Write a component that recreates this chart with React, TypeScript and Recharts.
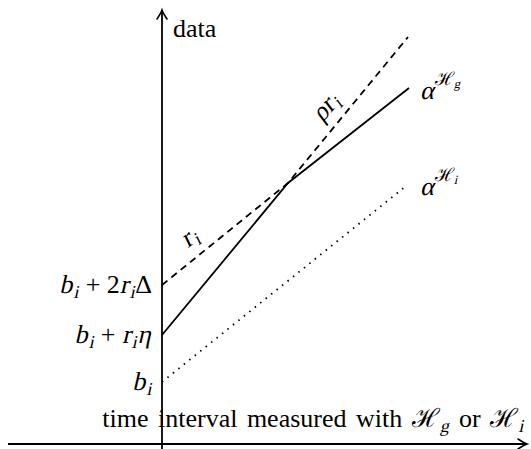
import React from 'react';
import { LineChart, Line, XAxis, YAxis, ReferenceLine, ReferenceDot } from 'recharts';

// units: 1 = 10px, origin where the two axes cross
const dashedX = [0, 12.6, 24.6];
const dashedY = [15.9, 26.1, 40.7];
const solidX = [0, 12.6, 24.7];
const solidY = [10.9, 26.1, 35.6];
const dottedX = [0, 24.4];
const dottedY = [6.2, 25.8];

const yTickValues = [15.9, 10.9, 6.2];
const yTickLabels = ['$b_i + 2r_iΔ$', '$b_i + r_iη$', '$b_i$'];

const seriesLabels = ['$α^{ℋ_g}$', '$α^{ℋ_i}$'];
const slopeLabels = ['$r_i$', '$ρr_i$'];
const xAxisTitle = 'time interval measured with $ℋ_g$ or $ℋ_i$';
const yAxisTitle = 'data';

const toPoints = (xs: number[], ys: number[]) => xs.map((x, i) => ({ x, y: ys[i] }));
const dashedData = toPoints(dashedX, dashedY);
const solidData = toPoints(solidX, solidY);
const dottedData = toPoints(dottedX, dottedY);

const FONT = 26;
const SERIF = '"Liberation Serif", "Times New Roman", serif';
const WORD_GAP = 3; // text mode spaces are a bit wider in the original

type Tok = { t: string; off: number; size: number; it: boolean; math: boolean };

// tiny tex-ish parser: $..$ math mode, _ sub, ^ sup, {..} groups
function parse(src: string, off: number, size: number, math: boolean, out: Tok[]) {
  let i = 0;
  const group = (): string => {
    if (src[i] === '{') {
      let depth = 1;
      let j = i + 1;
      while (j < src.length && depth > 0) {
        if (src[j] === '{') depth++;
        if (src[j] === '}') depth--;
        j++;
      }
      const g = src.slice(i + 1, j - 1);
      i = j;
      return g;
    }
    const g = src[i];
    i++;
    return g;
  };
  while (i < src.length) {
    const c = src[i];
    if (c === '$') {
      math = !math;
      i++;
    } else if (math && c === '_') {
      i++;
      parse(group(), off + size * 0.18, size * 0.7, true, out);
    } else if (math && c === '^') {
      i++;
      parse(group(), off - size * 0.55, size * 0.7, true, out);
    } else {
      const it = math && /[a-zA-Zαρη]/.test(c);
      const last = out[out.length - 1];
      if (last && last.off === off && last.size === size && last.it === it && last.math === math) last.t += c;
      else out.push({ t: c, off, size, it, math });
      i++;
    }
  }
}

let ctx: CanvasRenderingContext2D | null = null;
const measure = (t: string, size: number) => {
  if (!ctx) ctx = document.createElement('canvas').getContext('2d');
  if (!ctx) return t.length * size * 0.5;
  ctx.font = `${size}px ${SERIF}`;
  return ctx.measureText(t).width;
};

const MathText = ({ x, y, src, anchor = 'start', rotate = 0 }: any) => {
  const toks: Tok[] = [];
  parse(src, 0, FONT, false, toks);
  const widths = toks.map((k) => {
    let w = measure(k.t, k.size);
    if (!k.math) w += (k.t.match(/ /g) || []).length * WORD_GAP;
    if (k.it) w += k.size * 0.04;
    return w;
  });
  const total = widths.reduce((a, b) => a + b, 0);
  let cx = anchor === 'end' ? -total : anchor === 'middle' ? -total / 2 : 0;
  const parts = toks.map((k, idx) => {
    const px = cx;
    cx += widths[idx];
    return (
      <text
        key={idx}
        x={0}
        y={0}
        fontFamily={SERIF}
        fontSize={k.size}
        fill="#000"
        wordSpacing={k.math ? 0 : WORD_GAP}
        style={{ whiteSpace: 'pre' }}
        transform={`translate(${px} ${k.off})${k.it ? ' skewX(-13)' : ''}`}
      >
        {k.t}
      </text>
    );
  });
  return <g transform={`translate(${x} ${y})${rotate ? ` rotate(${rotate})` : ''}`}>{parts}</g>;
};

const Arrow = (p: any) => {
  const { x1, y1, x2, y2 } = p;
  const len = Math.hypot(x2 - x1, y2 - y1) || 1;
  const ux = (x2 - x1) / len;
  const uy = (y2 - y1) / len;
  const nx = -uy;
  const ny = ux;
  const L = [x2 - 9 * ux + 5 * nx, y2 - 9 * uy + 5 * ny];
  const R = [x2 - 9 * ux - 5 * nx, y2 - 9 * uy - 5 * ny];
  const cL = [x2 - 3 * ux + 1 * nx, y2 - 3 * uy + 1 * ny];
  const cR = [x2 - 3 * ux - 1 * nx, y2 - 3 * uy - 1 * ny];
  return (
    <g>
      <line x1={x1} y1={y1} x2={x2} y2={y2} stroke="#000" strokeWidth={1.8} />
      <path
        d={`M${L[0]},${L[1]} Q${cL[0]},${cL[1]} ${x2},${y2} Q${cR[0]},${cR[1]} ${R[0]},${R[1]}`}
        fill="none"
        stroke="#000"
        strokeWidth={1.6}
        strokeLinecap="round"
      />
    </g>
  );
};

const labelAt = (src: string, dx: number, dy: number, anchor = 'start', rotate = 0) => (p: any) => (
  <MathText x={p.cx + dx} y={p.cy + dy} src={src} anchor={anchor} rotate={rotate} />
);

const lerp = (a: number, b: number, t: number) => a + (b - a) * t;

export default function App() {
  return (
    <div style={{ position: 'absolute', left: 0, top: 0, background: '#fff' }}>
      <LineChart width={531} height={449} margin={{ top: 0, right: 0, bottom: 0, left: 0 }}>
        <XAxis type="number" dataKey="x" domain={[-16.2, 36.9]} allowDataOverflow hide />
        <YAxis type="number" dataKey="y" domain={[-0.5, 44.4]} allowDataOverflow hide />

        <ReferenceLine segment={[{ x: -15.4, y: 0 }, { x: 36.5, y: 0 }]} shape={Arrow} />
        <ReferenceLine segment={[{ x: 0, y: -0.5 }, { x: 0, y: 43.4 }]} shape={Arrow} />

        <Line data={dashedData} dataKey="y" type="linear" stroke="#000" strokeWidth={1.8}
          strokeDasharray="7 5" dot={false} activeDot={false} isAnimationActive={false} />
        <Line data={solidData} dataKey="y" type="linear" stroke="#000" strokeWidth={1.8}
          dot={false} activeDot={false} isAnimationActive={false} />
        <Line data={dottedData} dataKey="y" type="linear" stroke="#000" strokeWidth={1.8}
          strokeDasharray="1.5 5.5" dot={false} activeDot={false} isAnimationActive={false} />

        {yTickValues.map((v, i) => (
          <ReferenceDot key={i} x={0} y={v} r={0} shape={labelAt(yTickLabels[i], -10, 8, 'end')} />
        ))}

        <ReferenceDot x={solidX[2]} y={solidY[2]} r={0} shape={labelAt(seriesLabels[0], 11, 11)} />
        <ReferenceDot x={dottedX[1]} y={dottedY[1]} r={0} shape={labelAt(seriesLabels[1], 14, 9)} />

        <ReferenceDot
          x={lerp(dashedX[0], dashedX[1], 0.35)}
          y={lerp(dashedY[0], dashedY[1], 0.35)}
          r={0}
          shape={labelAt(slopeLabels[0], -12, -6, 'middle', -39)}
        />
        <ReferenceDot
          x={lerp(dashedX[1], dashedX[2], 0.43)}
          y={lerp(dashedY[1], dashedY[2], 0.43)}
          r={0}
          shape={labelAt(slopeLabels[1], -8, -8, 'middle', -50)}
        />

        <ReferenceDot x={0} y={43.4} r={0} shape={labelAt(yAxisTitle, 11, 27)} />
        <ReferenceDot x={36.5} y={0} r={0} shape={labelAt(xAxisTitle, -3, -17, 'end')} />
      </LineChart>
    </div>
  );
}
